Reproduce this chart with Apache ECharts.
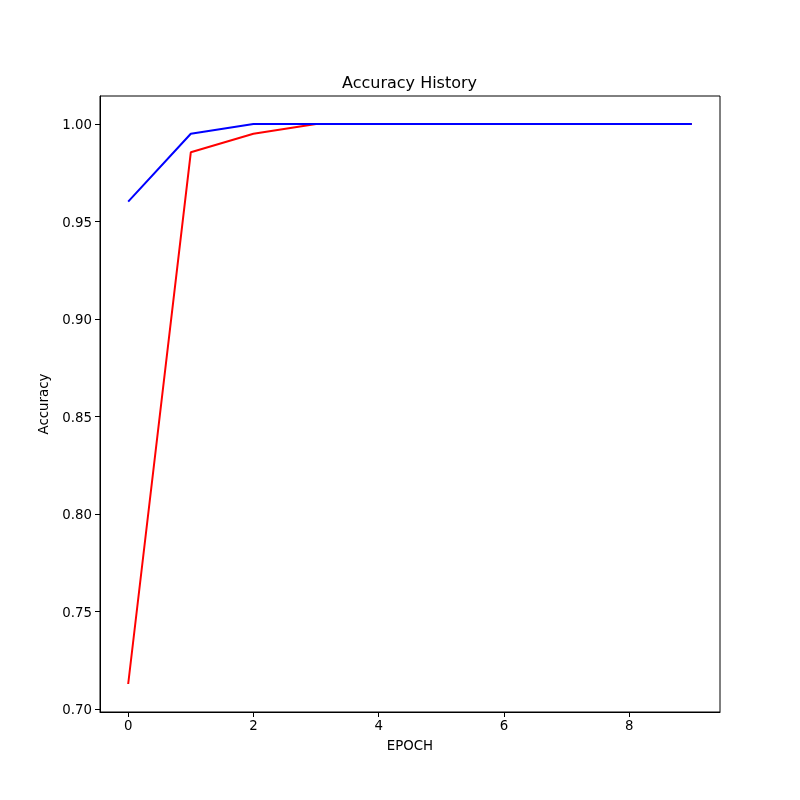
<!DOCTYPE html>
<html><head><meta charset="utf-8">
<script src="https://cdn.jsdelivr.net/npm/echarts@6/dist/echarts.min.js"></script>
<style>html,body{margin:0;padding:0;background:#fff}#c{width:800px;height:800px}</style>
</head><body><div id="c"></div>
<script>
const epochs = [0,1,2,3,4,5,6,7,8,9];
const trainAcc = [0.7127,0.9855,0.9950,1.0,1.0,1.0,1.0,1.0,1.0,1.0];
const valAcc = [0.9602,0.9950,1.0,1.0,1.0,1.0,1.0,1.0,1.0,1.0];
const xTicks = [0,2,4,6,8];
const yTicks = [0.70,0.75,0.80,0.85,0.90,0.95,1.00];

const font = 'DejaVu Sans';
const chart = echarts.init(document.getElementById('c'), null, {renderer:'canvas'});
const allY = trainAcc.concat(valAcc);
const yMinD = Math.min(...allY), yMaxD = Math.max(...allY);
const ySpan = yMaxD - yMinD;
const xSpan = epochs[epochs.length-1] - epochs[0];
chart.setOption({
  animation:false,
  backgroundColor:'#fff',
  title:{text:'Accuracy History',left:337,top:71,
    textStyle:{fontFamily:font,fontSize:16,fontWeight:'normal',color:'#000'}},
  grid:{left:100,right:80,top:96,bottom:88,show:true,borderColor:'#000',borderWidth:1,containLabel:false},
  xAxis:{type:'value',min:epochs[0]-0.05*xSpan,max:epochs[epochs.length-1]+0.05*xSpan,
    name:'EPOCH',nameLocation:'middle',nameGap:28,
    nameTextStyle:{fontFamily:font,fontSize:13.33,color:'#000'},
    axisLine:{show:true,onZero:false,lineStyle:{color:'#000',width:1}},
    axisTick:{show:true,length:5,customValues:xTicks,lineStyle:{color:'#000',width:1}},
    axisLabel:{customValues:xTicks,margin:8,fontFamily:font,fontSize:13.33,color:'#000'},
    splitLine:{show:false}},
  yAxis:{type:'value',min:yMinD-0.05*ySpan,max:yMaxD+0.05*ySpan,
    name:'Accuracy',nameLocation:'middle',nameGap:47,
    nameTextStyle:{fontFamily:font,fontSize:13.33,color:'#000'},
    axisLine:{show:true,onZero:false,lineStyle:{color:'#000',width:1}},
    axisTick:{show:true,length:5,customValues:yTicks,lineStyle:{color:'#000',width:1}},
    axisLabel:{customValues:yTicks,margin:8,fontFamily:font,fontSize:13.33,color:'#000',
      formatter:v=>'{a|'+v.toFixed(2)+'}',
      rich:{a:{fontFamily:font,fontSize:13.33,color:'#000',padding:[4,0,0,0]}}},
    splitLine:{show:false}},
  series:[
    {type:'line',data:epochs.map((e,i)=>[e,trainAcc[i]]),showSymbol:false,
      lineStyle:{color:'#ff0000',width:2},itemStyle:{color:'#ff0000'}},
    {type:'line',data:epochs.map((e,i)=>[e,valAcc[i]]),showSymbol:false,
      lineStyle:{color:'#0000ff',width:2},itemStyle:{color:'#0000ff'}}
  ]
});
</script></body></html>
